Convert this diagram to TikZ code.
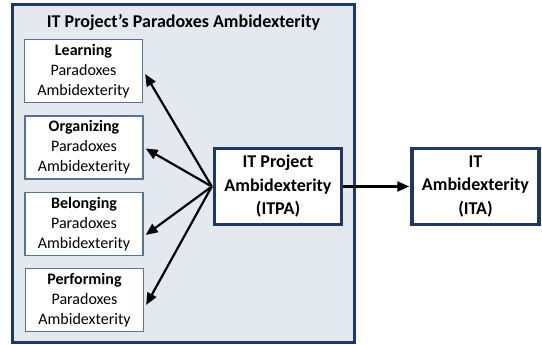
\documentclass[tikz,border=0pt]{standalone}
\usepackage{fontspec}
\setmainfont{Carlito}
\usetikzlibrary{arrows.meta,positioning}
\definecolor{outerfill}{HTML}{E4E8EF}
\definecolor{navy}{HTML}{1F3864}
\definecolor{softblue}{HTML}{5A7394}
\tikzset{
  paradox/.style={draw=softblue, line width=1.3pt, fill=white, minimum width=118pt, minimum height=63pt, inner sep=1pt, align=center, font=\fontsize{16}{20}\selectfont},
  mainbox/.style={draw=navy, line width=3.4pt, fill=white, minimum width=127pt, minimum height=76pt, inner sep=1pt, align=center, font=\bfseries\fontsize{18}{23.5}\selectfont},
  conn/.style={line width=2.2pt, -{Triangle[length=12pt,width=10pt]}}
}
\begin{document}
\begin{tikzpicture}[x=1pt,y=-1pt]
\useasboundingbox (0,0) rectangle (542,345);
\node[draw=navy, line width=2.4pt, fill=outerfill, minimum width=342pt, minimum height=338pt, inner sep=0pt] (outer) at (183.5,173.5) {};
\node[font=\bfseries\fontsize{18}{22}\selectfont] (title) at (183.5,22) {IT Project’s Paradoxes Ambidexterity};
\node[paradox] (learn) at (83.5,71) {\textbf{Learning}\\Paradoxes\\Ambidexterity};
\node[paradox] (org) at (84,147.5) {\textbf{Organizing}\\Paradoxes\\Ambidexterity};
\node[paradox] (bel) at (84,224) {\textbf{Belonging}\\Paradoxes\\Ambidexterity};
\node[paradox] (perf) at (84.5,300) {\textbf{Performing}\\Paradoxes\\Ambidexterity};
\node[mainbox] (itpa) at (278,186.5) {IT Project\\Ambidexterity\\(ITPA)};
\node[mainbox] (ita) at (475.5,186.5) {IT\\Ambidexterity\\(ITA)};
\coordinate (hub) at ([xshift=-1pt]itpa.west);
\draw[conn] (hub) -- ([xshift=2pt,yshift=-3pt]learn.east);
\draw[conn] (hub) -- ([xshift=2pt,yshift=-1pt]org.east);
\draw[conn] (hub) -- ([xshift=2pt,yshift=-11pt]bel.east);
\draw[conn] (hub) -- ([xshift=2pt,yshift=-5pt]perf.east);
\draw[conn] (itpa.east) -- ([xshift=-1pt]ita.west);
\end{tikzpicture}
\end{document}
